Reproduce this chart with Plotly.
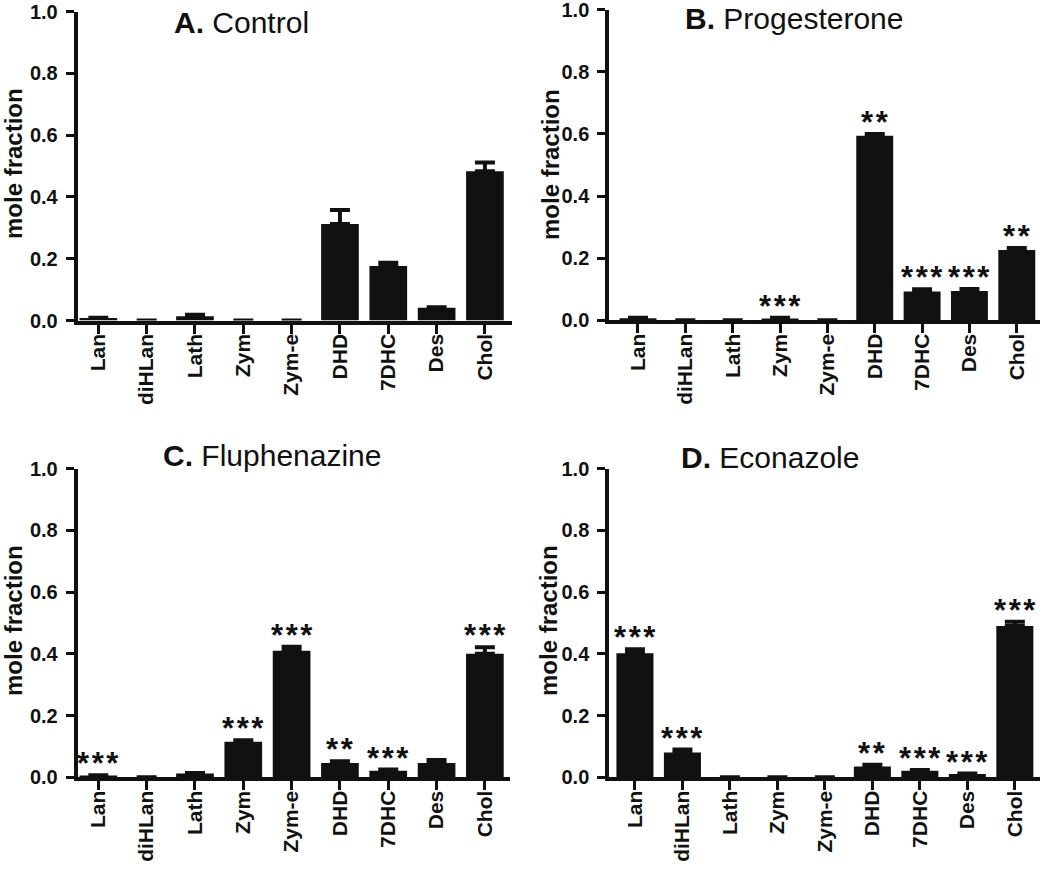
import plotly.graph_objects as go

categories = ["Lan", "diHLan", "Lath", "Zym", "Zym-e", "DHD", "7DHC", "Des", "Chol"]

A_vals = [0.008, 0.0, 0.014, 0.0, 0.0, 0.312, 0.176, 0.041, 0.483]
A_err = [0.001, 0.0, 0.005, 0.0, 0.0, 0.046, 0.011, 0.002, 0.028]
A_sig = ["", "", "", "", "", "", "", "", ""]

B_vals = [0.007, 0.0, 0.0, 0.006, 0.0, 0.594, 0.093, 0.094, 0.226]
B_err = [0.001, 0.0, 0.0, 0.002, 0.0, 0.006, 0.007, 0.007, 0.007]
B_sig = ["", "", "", "***", "", "**", "***", "***", "**"]

C_vals = [0.006, 0.0, 0.012, 0.115, 0.41, 0.046, 0.021, 0.046, 0.40]
C_err = [0.001, 0.0, 0.002, 0.005, 0.013, 0.006, 0.004, 0.010, 0.021]
C_sig = ["***", "", "", "***", "***", "**", "***", "", "***"]

D_vals = [0.402, 0.080, 0.0, 0.0, 0.0, 0.035, 0.021, 0.011, 0.490]
D_err = [0.013, 0.010, 0.0, 0.0, 0.0, 0.006, 0.003, 0.001, 0.014]
D_sig = ["***", "***", "", "", "", "**", "***", "***", "***"]

titles = ["<b>A.</b> Control", "<b>B.</b> Progesterone", "<b>C.</b> Fluphenazine", "<b>D.</b> Econazole"]
y_ticks = [0.0, 0.2, 0.4, 0.6, 0.8, 1.0]

W, H = 1050, 874
INK = "#111111"
FONT = "Liberation Sans, Arial, Helvetica, sans-serif"

# layout geometry in pixels (left, right, top(1.0), bottom(0.0), xrange)
panels = [
    dict(vals=A_vals, err=A_err, sig=A_sig, title=titles[0],
         x0=77.7, x1=512, ytop=11.5, ybot=320.5, xr=[-0.427, 8.56],
         tx=241, ty=22, yx=13, yy=164),
    dict(vals=B_vals, err=B_err, sig=B_sig, title=titles[1],
         x0=609.3, x1=1040, ytop=9.6, ybot=320.3, xr=[-0.606, 8.49],
         tx=794, ty=18, yx=550, yy=165),
    dict(vals=C_vals, err=C_err, sig=C_sig, title=titles[2],
         x0=77.7, x1=510, ytop=468.5, ybot=777.3, xr=[-0.427, 8.52],
         tx=272, ty=455, yx=13, yy=621),
    dict(vals=D_vals, err=D_err, sig=D_sig, title=titles[3],
         x0=609.3, x1=1040, ytop=468.5, ybot=777.3, xr=[-0.54, 8.53],
         tx=770, ty=457, yx=548, yy=621),
]

fig = go.Figure()
annotations = []

for i, p in enumerate(panels):
    n = "" if i == 0 else str(i + 1)
    xa, ya = "x" + n, "y" + n
    fig.add_trace(go.Bar(
        x=categories, y=p["vals"], xaxis=xa, yaxis=ya,
        marker=dict(color=INK, line=dict(width=0)),
        width=0.78,
        error_y=dict(type="data", array=p["err"], arrayminus=[0] * len(p["err"]),
                     symmetric=False, color=INK, thickness=4, width=10),
        showlegend=False, hoverinfo="skip",
    ))
    layout_x = dict(
        domain=[p["x0"] / W, p["x1"] / W], anchor=ya, type="category",
        range=p["xr"], showline=True, linewidth=4, linecolor=INK,
        ticks="outside", ticklen=9, tickwidth=3, tickcolor=INK,
        tickangle=-90, ticklabelstandoff=-8, ticklabeloverflow="allow",
        tickfont=dict(family=FONT, size=21, color=INK, weight="bold"),
        showgrid=False, zeroline=False, fixedrange=True, automargin=False,
    )
    layout_y = dict(
        domain=[1 - p["ybot"] / H, 1 - p["ytop"] / H], anchor=xa,
        range=[0, 1.0], tickvals=y_ticks, ticktext=[f"{v:.1f}" for v in y_ticks],
        showline=True, linewidth=4, linecolor=INK,
        ticks="outside", ticklen=8, tickwidth=3, tickcolor=INK,
        ticklabelstandoff=4, ticklabeloverflow="allow",
        tickfont=dict(family=FONT, size=20, color=INK, weight="bold"),
        showgrid=False, zeroline=False, fixedrange=True, automargin=False,
    )
    fig.update_layout(**{"xaxis" + n: layout_x, "yaxis" + n: layout_y})

    # significance stars
    for c, v, e, s in zip(categories, p["vals"], p["err"], p["sig"]):
        if s:
            annotations.append(dict(
                x=c, y=v + e, xref=xa, yref=ya, text="\u200a".join(s),
                showarrow=False, yanchor="bottom", xanchor="center", yshift=-8,
                font=dict(family=FONT, size=31, color=INK, weight="bold"),
            ))
    # panel title
    annotations.append(dict(
        x=p["tx"] / W, y=1 - p["ty"] / H, xref="paper", yref="paper",
        text=p["title"], showarrow=False, xanchor="center", yanchor="middle",
        font=dict(family=FONT, size=30, color=INK),
    ))
    # y axis title
    annotations.append(dict(
        x=p["yx"] / W, y=1 - p["yy"] / H, xref="paper", yref="paper",
        text="<b>mole fraction</b>", showarrow=False, textangle=-90,
        xanchor="center", yanchor="middle",
        font=dict(family=FONT, size=24, color=INK),
    ))

fig.update_layout(
    width=W, height=H, margin=dict(l=0, r=0, t=0, b=0, autoexpand=False),
    paper_bgcolor="white", plot_bgcolor="white",
    annotations=annotations, bargap=0.22,
)

fig.write_html("out.html", config={"displayModeBar": False},
               post_script="document.body.style.margin='0';")
